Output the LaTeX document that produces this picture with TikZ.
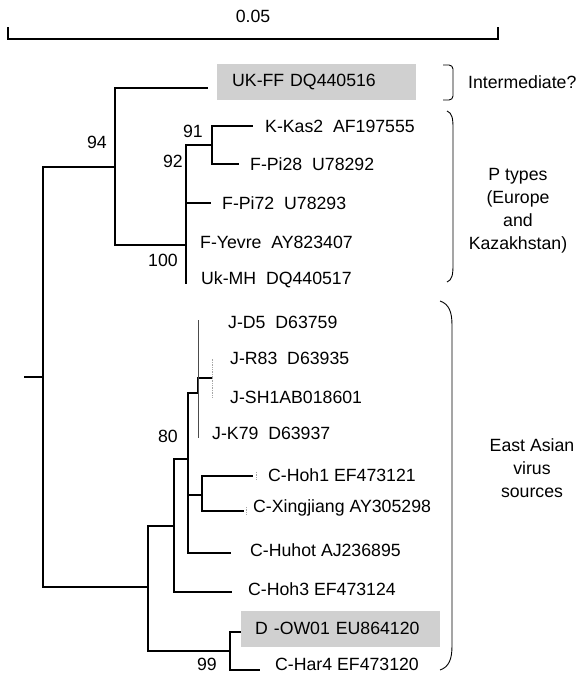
\documentclass[tikz,border=0pt]{standalone}
\usepackage{fontspec}
\setmainfont{Liberation Sans}
\definecolor{boxgrey}{RGB}{208,208,208}
\tikzset{
  branch/.style={line width=1.3pt, line cap=rect},
  jline/.style={line width=1pt, black!70},
  jfaint/.style={line width=0.7pt, black!35, densely dotted},
  leaf/.style={anchor=west, inner sep=0pt, font=\fontsize{17.7}{21}\selectfont},
  boot/.style={inner sep=0pt, font=\fontsize{17.7}{21}\selectfont},
  hibox/.style={leaf, fill=boxgrey, inner xsep=15pt, text width=169pt, minimum height=36pt, align=left},
  group/.style={inner sep=0pt, align=center, font=\fontsize{17.7}{23}\selectfont},
  brace/.style={line width=0.9pt}
}
\begin{document}
\begin{tikzpicture}[x=1pt,y=-1pt]
    \useasboundingbox (0,0) rectangle (576,675);

    % scala
    \coordinate (s0) at (8,28);
    \coordinate (s1) at (498,28);
    \draw[branch] (s0) -- ++(0,11) -| (s1);
    \node[boot] (scale) at (253,16) {0.05};

    % albero: nodi interni e foglie
    \coordinate (stub) at (25,377);
    \coordinate (r) at (43,377);
    \coordinate (a) at (115,167);
    \coordinate (ukff) at (207,88);
    \coordinate (b) at (186,245);
    \coordinate (c) at (212,145);
    \coordinate (kas2) at (252,126);
    \coordinate (pi28) at (238,164);
    \coordinate (pi72) at (210,203);
    \coordinate (ukmh) at (186,283);
    \coordinate (d) at (148,587);
    \coordinate (e) at (174,526);
    \coordinate (f) at (188,459);
    \coordinate (j) at (198,393);
    \coordinate (js) at (212,378);
    \coordinate (jd5) at (198,320);
    \coordinate (jr83) at (212,358);
    \coordinate (jsh1) at (212,398);
    \coordinate (jk79) at (198,438);
    \coordinate (g) at (202,495);
    \coordinate (hoh1) at (252,476);
    \coordinate (xing) at (243,511);
    \coordinate (huhot) at (230,553);
    \coordinate (hoh3) at (231,592);
    \coordinate (h) at (230,651);
    \coordinate (dow) at (241,632);
    \coordinate (har4) at (259,670);

    % rami
    \draw[branch] (stub) -- (r);
    \draw[branch] (r) |- (a);
    \draw[branch] (r) |- (d);
    \draw[branch] (a) |- (ukff);
    \draw[branch] (a) |- (b);
    \draw[branch] (b) |- (c);
    \draw[branch] (b) |- (pi72);
    \draw[branch] (b) |- (ukmh);
    \draw[branch] (c) |- (kas2);
    \draw[branch] (c) |- (pi28);
    \draw[branch] (d) |- (e);
    \draw[branch] (d) |- (h);
    \draw[branch] (e) |- (f);
    \draw[branch] (e) |- (hoh3);
    \draw[branch] (f) |- (j);
    \draw[branch] (f) |- (g);
    \draw[branch] (f) |- (huhot);
    \draw[line width=2.6pt] (f |- g) -- (f |- e);
    \draw[branch] (j) |- (js);
    \draw[jline] (j) |- (jd5);
    \draw[jline] (j) |- (jk79);
    \draw[jfaint] (js) |- (jr83);
    \draw[jfaint] (js) |- (jsh1);
    \draw[branch] (g) |- (hoh1);
    \draw[branch] (g) |- (xing);
    \draw[branch] (h) |- (dow);
    \draw[branch] (h) |- (har4);
    \draw[jfaint] (hoh1) ++(4,-4) -- ++(0,8);
    \draw[jfaint] (xing) ++(3,-4) -- ++(0,8);

    % etichette foglie
    \node[hibox] (lukff) at (217,82) {UK-FF DQ440516};
    \node[leaf] (lkas2) at (265,126) {K-Kas2~~AF197555};
    \node[leaf] (lpi28) at (250,164) {F-Pi28~~U78292};
    \node[leaf] (lpi72) at (222,203) {F-Pi72~~U78293};
    \node[leaf] (lyevre) at (200,242) {F-Yevre~~AY823407};
    \node[leaf] (lukmh) at (201,280) {Uk-MH~~DQ440517};
    \node[leaf] (ljd5) at (228,322) {J-D5~~D63759};
    \node[leaf] (ljr83) at (230,358) {J-R83~~D63935};
    \node[leaf] (ljsh1) at (230,397) {J-SH1AB018601};
    \node[leaf] (ljk79) at (212,433) {J-K79~~D63937};
    \node[leaf] (lhoh1) at (268,475) {C-Hoh1 EF473121};
    \node[leaf] (lxing) at (253,508) {C-Xingjiang AY305298};
    \node[leaf] (lhuhot) at (250,550) {C-Huhot AJ236895};
    \node[leaf] (lhoh3) at (248,589) {C-Hoh3 EF473124};
    \node[hibox, inner xsep=14pt, text width=171pt] (ldow) at (241,628.5) {D -OW01 EU864120};
    \node[leaf] (lhar4) at (275,664) {C-Har4 EF473120};

    % bootstrap
    \node[boot] (b94) at (97,142) {94};
    \node[boot] (b91) at (193,131) {91};
    \node[boot] (b92) at (173,161) {92};
    \node[boot] (b100) at (163,260) {100};
    \node[boot] (b80) at (168,436) {80};
    \node[boot] (b99) at (207,664) {99};

    % parentesi e gruppi
    \draw[brace, rounded corners=4pt] (443,65) -- (453,65) -- (453,100) -- (443,100);
    \draw[brace] (447,111) .. controls (452,113) and (453,118) .. (453,128) -- (453,265) .. controls (453,275) and (452,280) .. (447,282);
    \draw[brace] (440,301) .. controls (449,304) and (452,312) .. (452,325) -- (452,646) .. controls (452,659) and (449,667) .. (440,670);
    \node[leaf] (linter) at (468,82) {Intermediate?};
    \node[group] (lptypes) at (518,211) {P types\\(Europe\\and\\Kazakhstan)};
    \node[group] (least) at (532,468) {East Asian\\virus\\sources};
\end{tikzpicture}
\end{document}
